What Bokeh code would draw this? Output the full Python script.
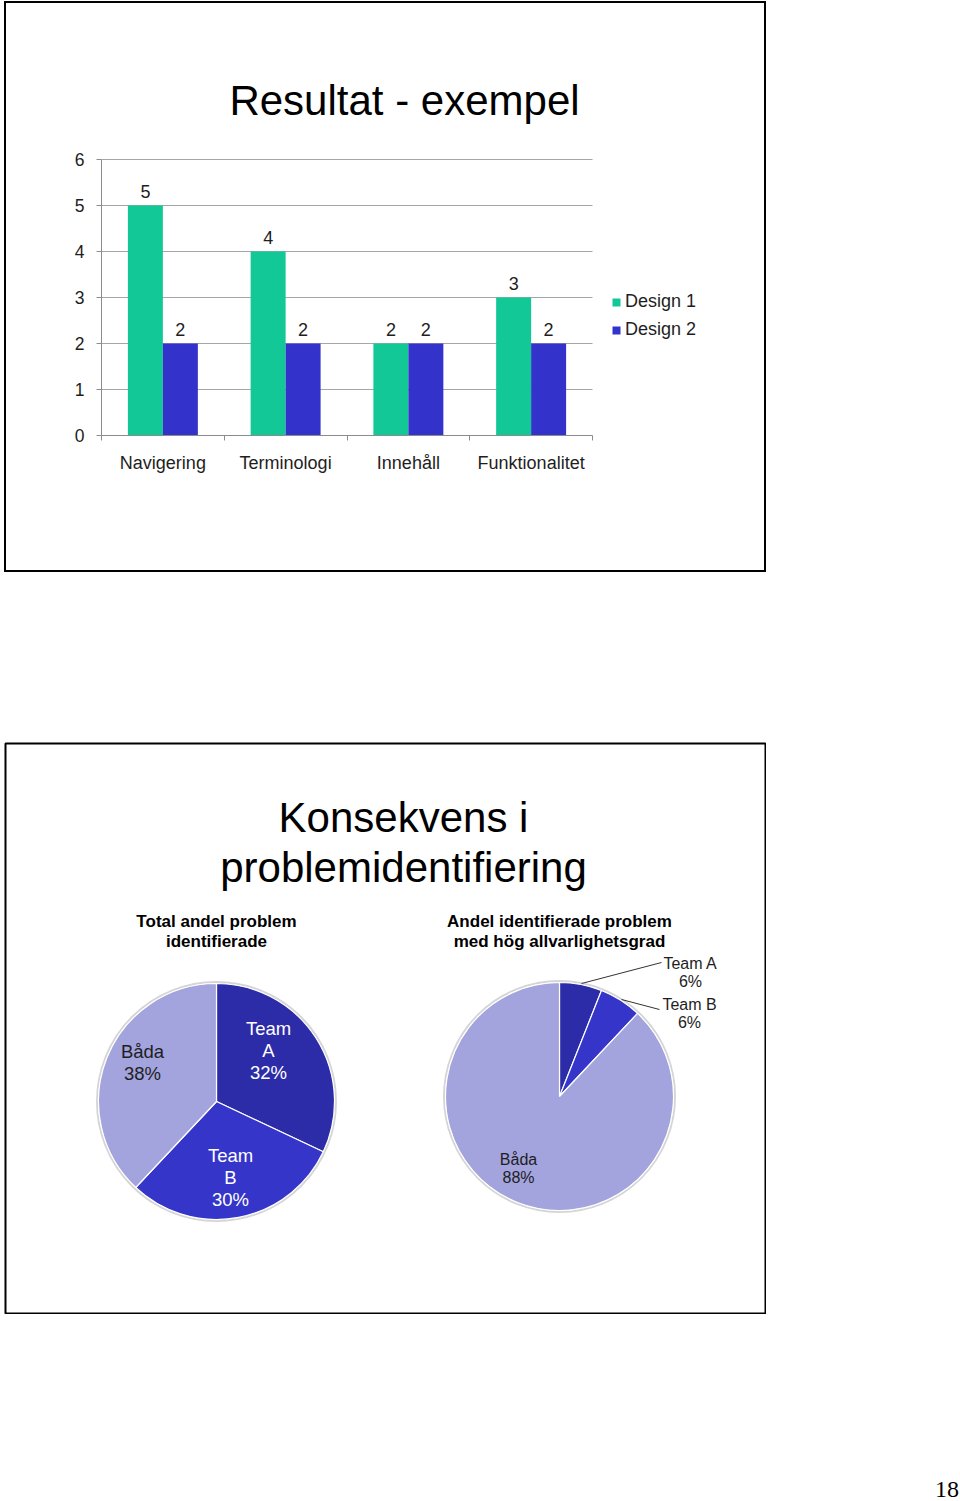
import numpy as np
from bokeh.plotting import figure
from bokeh.models import (Range1d, FixedTicker, ColumnDataSource, Label,
                          LabelSet, Legend, LegendItem, Spacer, Div)
from bokeh.layouts import column, row
from bokeh.transform import dodge
from bokeh.core.properties import value
from bokeh.embed import file_html
from bokeh.resources import INLINE

# ---------------- data ----------------
categories = ["Navigering", "Terminologi", "Innehåll", "Funktionalitet"]
design1 = [5, 4, 2, 3]
design2 = [2, 2, 2, 2]
series_names = ["Design 1", "Design 2"]
y_ticks = [0, 1, 2, 3, 4, 5, 6]

pie1_title = "Total andel problem\nidentifierade"
pie1_labels = ["Team A", "Team B", "Båda"]
pie1_values = [32, 30, 38]

pie2_title = "Andel identifierade problem\nmed hög allvarlighetsgrad"
pie2_labels = ["Team A", "Team B", "Båda"]
pie2_values = [6, 6, 88]

slide1_title = "Resultat - exempel"
slide2_title = "Konsekvens i\nproblemidentifiering"
page_number = "18"

# ---------------- styles ----------------
FONT = "Liberation Sans"
GREEN = "#12C896"
BLUE = "#3333CC"
GRID = "#A6A6A6"
AXIS = "#8C8C8C"
TXT = "#1E1E1E"
PIE_COLORS = ["#2C2CA8", "#3535C9", "#A3A3DD"]

# ---------------- slide 1: bar chart ----------------
n = len(categories)
centers = [i + 0.5 for i in range(n)]          # category slots on a linear scale
bounds = list(range(n + 1))                    # slot boundaries (tick marks)
y_max = max(y_ticks)

# the frame also covers the title (above) and the legend (right) area of the slide;
# axes are bounded to the real value area
X_END = n * 659 / 491
Y_END = y_max * 432 / 276

p1 = figure(width=758, height=567, x_range=Range1d(0, X_END), y_range=Range1d(0, Y_END),
            output_backend="svg", toolbar_location=None,
            min_border_left=95, min_border_right=8, min_border_top=0, min_border_bottom=139)
p1.styles = {"border": "2px solid #000000", "box-sizing": "content-box"}
p1.outline_line_color = None
p1.background_fill_color = "white"
p1.border_fill_color = "white"
p1.xgrid.visible = False
p1.ygrid.visible = False

yax = p1.yaxis[0]
yax.ticker = FixedTicker(ticks=y_ticks)
yax.bounds = (0, y_max)
yax.major_tick_out = 5
yax.major_tick_in = 0
yax.minor_tick_line_color = None
yax.axis_line_color = AXIS
yax.major_tick_line_color = AXIS
yax.major_label_text_font = FONT
yax.major_label_text_font_size = "17.5px"
yax.major_label_text_color = TXT
yax.major_label_standoff = 12

xax = p1.xaxis[0]
xax.ticker = FixedTicker(ticks=centers, minor_ticks=bounds)
xax.bounds = (0, n)
xax.major_label_overrides = {c: lab for c, lab in zip(centers, categories)}
xax.axis_line_color = AXIS
xax.major_tick_line_color = None
xax.major_tick_out = 0
xax.major_tick_in = 0
xax.minor_tick_line_color = AXIS
xax.minor_tick_out = 5
xax.minor_tick_in = 0
xax.major_label_text_font = FONT
xax.major_label_text_font_size = "18px"
xax.major_label_text_color = TXT
xax.major_label_standoff = 12

# horizontal gridlines across the category area only
p1.segment(x0=0, x1=n, y0=y_ticks[1:], y1=y_ticks[1:], line_color=GRID, line_width=1)

src = ColumnDataSource(dict(xc=centers, d1=design1, d2=design2,
                            t1=[str(v) for v in design1], t2=[str(v) for v in design2]))
W = 0.285
r1 = p1.vbar(x=dodge("xc", -W / 2), top="d1", width=W, source=src, fill_color=GREEN, line_color=None)
r2 = p1.vbar(x=dodge("xc", W / 2), top="d2", width=W, source=src, fill_color=BLUE, line_color=None)

for ycol, tcol, off in (("d1", "t1", -W / 2), ("d2", "t2", W / 2)):
    p1.add_layout(LabelSet(x=dodge("xc", off), y=ycol, text=tcol, source=src,
                           text_align="center", text_baseline="alphabetic", y_offset=8,
                           text_font=value(FONT), text_font_size=value("18px"), text_color=TXT))

legend = Legend(items=[LegendItem(label=series_names[0], renderers=[r1]),
                       LegendItem(label=series_names[1], renderers=[r2])],
                location=(510, 95), glyph_width=10, glyph_height=10, label_standoff=4,
                label_text_font=FONT, label_text_font_size="18px", label_text_color=TXT,
                label_height=20, spacing=7, padding=0, margin=0,
                border_line_color=None, background_fill_alpha=0)
p1.add_layout(legend, "center")

p1.add_layout(Label(x=n * 303 / 491, y=y_max * 335 / 276, text=slide1_title,
                    text_align="center", text_baseline="middle",
                    text_font=FONT, text_font_size="42px", text_color="#000000"))

# ---------------- slide 2: pies ----------------
p2 = figure(width=762, height=572, x_range=Range1d(5, 765), y_range=Range1d(-1313, -743),
            output_backend="svg", toolbar_location=None,
            x_axis_location=None, y_axis_location=None, min_border=1)
p2.xgrid.visible = False
p2.ygrid.visible = False
p2.outline_line_color = "#000000"
p2.outline_line_width = 2
p2.background_fill_color = "white"
p2.border_fill_color = "white"


def pie(cx, cy, r, labels, values):
    vals = np.array(values, dtype=float)
    cum = np.concatenate([[0], np.cumsum(vals) / vals.sum() * 2 * np.pi])
    starts = np.pi / 2 - cum[1:]
    ends = np.pi / 2 - cum[:-1]
    s = ColumnDataSource(dict(s=starts, e=ends, c=PIE_COLORS[:len(labels)], lab=labels))
    p2.circle(x=cx, y=cy, radius=r + 1.5, fill_color=None, line_color="#D5D5D5", line_width=2)
    p2.wedge(x=cx, y=cy, radius=r, start_angle="s", end_angle="e", fill_color="c",
             line_color="white", line_width=1.2, source=s)


pie(216, -1101, 118, pie1_labels, pie1_values)
pie(559, -1096, 114, pie2_labels, pie2_values)

# leader lines for the small slices
p2.segment(x0=[581, 621], y0=[-983, -999], x1=[661, 659], y1=[-962, -1009],
           line_color="#333333", line_width=1)


def txt(xs, ys, texts, size, color, style="normal", lh=1.1):
    p2.text(x=xs, y=ys, text=texts, text_align="center", text_baseline="middle",
            text_font=value(FONT), text_font_size=value(size), text_color=color,
            text_font_style=style, text_line_height=lh)


txt([403], [-842], [slide2_title], "42px", "#000000", lh=1.077)
txt([216, 559], [-931, -931], [pie1_title, pie2_title], "17px", "#000000", "bold", 1.03)

# left pie labels
l1 = [f"{pie1_labels[0].replace(' ', chr(10))}\n{pie1_values[0]}%",
      f"{pie1_labels[1].replace(' ', chr(10))}\n{pie1_values[1]}%"]
txt([268, 230], [-1050, -1177], l1, "18.5px", "white", lh=1.035)
txt([142], [-1062], [f"{pie1_labels[2]}\n{pie1_values[2]}%"], "18.5px", TXT, lh=1.035)

# right pie labels
r_texts = [f"{pie2_labels[i]}\n{pie2_values[i]}%" for i in range(3)]
txt([690, 689, 518], [-972, -1013, -1168], r_texts, "16px", TXT, lh=1.09)

# ---------------- page ----------------
num = Div(text=page_number, width=30, height=28,
          styles={"font-family": "Liberation Serif", "font-size": "24px", "color": "#000000"})

layout = column(
    Spacer(height=1),
    row(Spacer(width=4), p1),
    Spacer(height=170),
    row(Spacer(width=4), p2),
    Spacer(height=153),
    row(Spacer(width=930), num),
)

open("out.html", "w").write(file_html(layout, INLINE))
